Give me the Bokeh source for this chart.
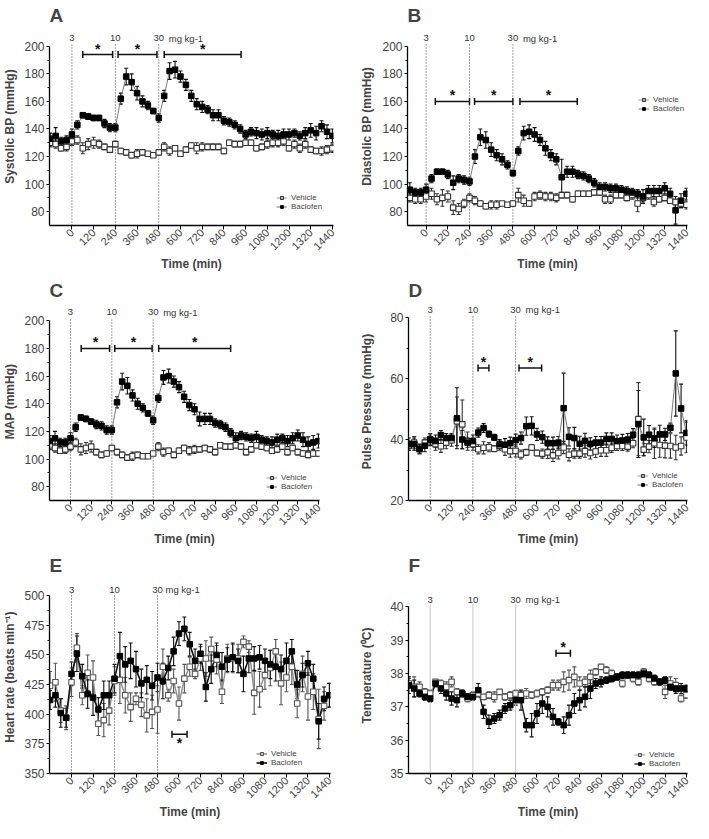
import math
from bokeh.plotting import figure
from bokeh.models import (Range1d, FixedTicker, Whisker, TeeHead, ColumnDataSource,
                          Legend, LegendItem, LabelSet, Label, Spacer)
from bokeh.layouts import row, column
from bokeh.embed import file_html
from bokeh.resources import INLINE
from bokeh.core.properties import value

FONT = "Liberation Sans"

# ---------------- data ----------------
t_main = list(range(-120, 1441, 30))
t_B = list(range(-90, 1441, 30))
x_ticks = list(range(0, 1441, 120))
dose_times = [0, 240, 480]
dose_labels = ["3", "10", "30"]
dose_unit = "mg kg-1"

A_bac = [133, 135, 131, 132, 136, 143, 150, 149, 148, 148, 144, 141, 141, 162, 178, 174, 166, 160, 157, 153, 148,
         164, 182, 183, 178, 172, 164, 158, 156, 154, 150, 150, 146, 145, 143, 140, 136,
         138, 137, 136, 137, 136, 135, 136, 136, 137, 135, 137, 139, 137, 142, 138, 135]
A_bac_err = [4, 6, 3, 3, 4, 3, 2, 2, 2, 2, 3, 3, 3, 4, 6, 6, 5, 4, 3, 2, 3,
             4, 6, 6, 4, 4, 4, 4, 4, 3, 4, 4, 3, 3, 3, 3, 3,
             3, 4, 4, 4, 3, 4, 4, 4, 3, 3, 4, 5, 5, 4, 5, 5]
A_veh = [130, 129, 126, 127, 131, 132, 126, 129, 130, 129, 127, 125, 129, 124, 123, 121, 122, 123, 122, 121, 123,
         127, 124, 126, 122, 125, 128, 126, 127, 127, 127, 127, 124, 130, 129, 129, 130,
         130, 126, 127, 129, 130, 130, 131, 126, 129, 126, 129, 125, 124, 124, 125, 126]
A_veh_err = [3, 3, 2, 3, 3, 3, 4, 4, 4, 3, 2, 2, 2, 2, 2, 2, 3, 2, 1, 1, 1,
             3, 3, 2, 2, 2, 2, 4, 3, 2, 2, 2, 2, 2, 2, 2, 2,
             2, 2, 2, 3, 3, 3, 3, 2, 3, 3, 3, 2, 2, 3, 3, 3]

B_bac = [96, 94, 94, 96, 104, 109, 109, 107, 101, 104, 103, 102, 120, 134, 132, 125, 121, 118, 114, 108,
         124, 137, 138, 136, 132, 126, 121, 118, 105, 109, 109, 107, 106, 104, 101, 98,
         98, 97, 97, 96, 95, 94, 93, 91, 95, 95, 95, 97, 93, 81, 88, 93]
B_bac_err = [5, 3, 3, 4, 3, 2, 2, 3, 5, 3, 3, 3, 5, 6, 6, 5, 4, 4, 3, 2,
             3, 5, 5, 5, 4, 5, 4, 4, 13, 4, 4, 3, 3, 3, 3, 3,
             3, 3, 3, 3, 3, 3, 3, 5, 4, 4, 4, 4, 4, 10, 5, 4]
B_veh = [90, 89, 89, 91, 93, 89, 90, 91, 83, 82, 86, 90, 88, 86, 84, 85, 85, 86, 85, 86,
         92, 88, 86, 91, 92, 91, 91, 90, 92, 92, 89, 93, 93, 93, 94, 94,
         89, 89, 92, 92, 90, 92, 86, 90, 92, 87, 89, 90, 88, 87, 86, 85]
B_veh_err = [3, 3, 3, 4, 4, 4, 6, 4, 5, 4, 3, 3, 3, 2, 2, 3, 3, 1, 1, 2,
             5, 4, 2, 3, 3, 3, 3, 3, 2, 2, 2, 2, 2, 2, 2, 2,
             3, 3, 2, 2, 2, 3, 6, 3, 3, 3, 2, 2, 2, 2, 3, 3]

C_bac = [113, 115, 112, 112, 115, 123, 130, 129, 127, 125, 124, 121, 121, 141, 156, 153, 146, 140, 137, 133, 128,
         144, 159, 160, 156, 152, 145, 139, 136, 129, 129, 129, 126, 125, 123, 119, 115,
         117, 116, 115, 116, 114, 113, 112, 114, 115, 113, 115, 117, 114, 111, 112, 113]
C_bac_err = [4, 5, 3, 3, 4, 3, 2, 2, 2, 3, 3, 3, 3, 4, 6, 6, 4, 4, 3, 2, 3,
             3, 5, 5, 4, 4, 4, 4, 4, 5, 4, 4, 3, 3, 3, 3, 4,
             3, 3, 3, 4, 3, 3, 4, 4, 3, 4, 4, 4, 5, 5, 5, 5]
C_veh = [110, 108, 106, 107, 109, 112, 107, 108, 109, 105, 103, 104, 108, 105, 103, 101, 102, 103, 102, 102, 104,
         109, 105, 106, 103, 106, 108, 106, 107, 107, 108, 107, 105, 110, 109, 109, 110,
         109, 105, 107, 110, 109, 108, 106, 107, 109, 105, 108, 105, 104, 103, 104, 104]
C_veh_err = [3, 3, 2, 3, 3, 3, 4, 4, 4, 2, 2, 2, 2, 2, 2, 2, 3, 2, 1, 1, 1,
             3, 3, 2, 2, 2, 2, 3, 3, 2, 2, 2, 2, 2, 2, 2, 2,
             2, 2, 2, 2, 2, 2, 2, 2, 2, 2, 2, 2, 2, 2, 2, 2]

D_bac = [38.5, 38.5, 37, 38, 40, 39.5, 41.5, 40.5, 40.5, 47, 40, 39, 39.5,
         42.3, 43.8, 41.8, 40.7, 38.5, 38.3, 38.8, 39.8,
         40.5, 44.4, 44.5, 41.7, 40.8, 38.9, 38.8, 39, 50.3, 40.9, 40.5, 38.6, 39.6, 38.6, 39, 39,
         40.2, 40.2, 39.5, 39.7, 40, 41.6, 45.1, 40.7, 41.6, 40.4, 41.7, 41.7, 43.9, 61.7, 50.2, 42.2]
D_bac_err = [2, 2, 1.5, 2, 2, 2, 1.5, 1.5, 1.5, 10, 3, 1.5, 2,
             1.5, 1.5, 1, 1, 1.5, 2, 2, 2,
             2, 3, 3, 2, 2, 2, 2, 2, 11.5, 3, 3.5, 2.5, 2.5, 2, 2, 2,
             2, 2, 2, 2, 2, 2, 11, 6, 3, 3, 3, 2, 1.5, 14, 8, 4]
D_veh = [38, 39, 36.8, 39, 40, 38.5, 37.8, 39, 39.8, 46, 45, 39.5, 38.5,
         36.8, 37.3, 37.5, 37, 38, 36.8, 36.2, 36.3,
         35.1, 35.8, 37.4, 35.6, 35.4, 35.8, 34.8, 35.6, 37.4, 35, 35.4, 35.4, 36.2, 35.6, 36.1, 36.5,
         36.5, 37.3, 37.9, 37.9, 37.7, 38.8, 46.7, 36.7, 37.7, 38.8, 38.2, 38, 37.9, 37.4, 37.9, 40.7]
D_veh_err = [1.5, 2, 1.5, 1.5, 1.5, 2, 2, 2, 2, 8, 8, 3, 2,
             1.5, 2, 1.5, 1, 1.5, 2, 2, 2,
             1.5, 1, 1, 1, 1.5, 2, 2, 2, 2, 2, 1.5, 1.5, 2, 2, 2, 2,
             2, 1.5, 1.5, 1.5, 1.5, 1.5, 12, 2, 2, 5, 4, 4, 4, 4, 3, 5]

E_bac = [412, 416, 401, 397, 434, 451, 432, 417, 414, 404, 416, 416, 430,
         449, 442, 445, 438, 426, 429, 424, 431, 428, 439, 453,
         468, 472, 459, 445, 451, 423, 438, 450, 440, 446, 448, 445, 434, 447, 447,
         448, 445, 442, 440, 438, 445, 453, 425, 433, 443, 430, 394, 413, 416]
E_bac_err = [8, 10, 12, 8, 10, 15, 10, 12, 15, 10, 12, 12, 12,
             20, 15, 15, 15, 12, 12, 12, 12, 15, 10, 12,
             10, 10, 10, 10, 8, 12, 12, 10, 12, 10, 12, 10, 15, 12, 10,
             10, 10, 12, 12, 12, 15, 10, 12, 10, 10, 12, 15, 10, 10]
E_veh = [424, 427, 403, 397, 427, 456, 416, 435, 431, 392, 395, 403, 428,
         429, 416, 406, 413, 408, 399, 402, 404, 440, 416, 428,
         409, 430, 440, 434, 447, 447, 455, 446, 419, 447, 447, 447, 461, 457, 418,
         421, 433, 439, 453, 426, 431, 440, 409, 434, 415, 419, 396, 407, 416]
E_veh_err = [12, 16, 10, 10, 12, 12, 8, 15, 14, 10, 14, 12, 12,
             20, 15, 12, 5, 10, 14, 14, 20, 15, 5, 10,
             14, 12, 8, 4, 10, 15, 10, 12, 10, 12, 12, 12, 5, 5, 18,
             15, 12, 15, 10, 18, 12, 15, 12, 15, 20, 15, 25, 12, 10]

F_bac = [37.65, 37.55, 37.4, 37.3, 37.25, 37.7, 37.55, 37.4, 37.25, 37.2, 37.4, 37.3, 37.3,
         37.5, 36.85, 36.55, 36.65, 36.75, 36.95, 37.05, 37.2,
         37.2, 36.45, 36.45, 36.8, 37.1, 37.0, 36.7, 36.55, 36.45, 36.75, 37.1, 37.2, 37.3, 37.55, 37.7, 37.75,
         37.8, 37.85, 37.9, 37.95, 37.95, 37.95, 37.95, 38.0, 37.95, 37.85, 37.75, 37.8, 37.6, 37.55, 37.55, 37.55]
F_bac_err = [0.25, 0.25, 0.1, 0.1, 0.1, 0.1, 0.15, 0.2, 0.2, 0.2, 0.1, 0.1, 0.1,
             0.2, 0.2, 0.2, 0.15, 0.15, 0.15, 0.15, 0.15,
             0.3, 0.2, 0.35, 0.3, 0.3, 0.3, 0.25, 0.1, 0.25, 0.3, 0.3, 0.3, 0.3, 0.3, 0.15, 0.15,
             0.1, 0.1, 0.1, 0.1, 0.1, 0.1, 0.1, 0.1, 0.1, 0.1, 0.1, 0.1, 0.1, 0.15, 0.15, 0.1]
F_veh = [37.7, 37.6, 37.6, 37.45, 37.4, 37.75, 37.7, 37.6, 37.75, 37.45, 37.4, 37.25, 37.35,
         37.4, 37.3, 37.35, 37.3, 37.45, 37.3, 37.35, 37.4,
         37.35, 37.4, 37.35, 37.4, 37.45, 37.5, 37.65, 37.65, 37.75, 37.8, 37.9, 37.7, 37.75, 37.9, 38.05, 38.2,
         38.1, 38.0, 37.9, 37.7, 37.95, 37.85, 37.75, 38.05, 37.85, 37.75, 37.75, 37.45, 37.7, 37.65, 37.25, 37.35]
F_veh_err = [0.15, 0.3, 0.15, 0.1, 0.1, 0.05, 0.1, 0.15, 0.15, 0.1, 0.1, 0.1, 0.1,
             0.05, 0.05, 0.1, 0.15, 0.05, 0.1, 0.1, 0.1,
             0.1, 0.15, 0.1, 0.1, 0.1, 0.1, 0.15, 0.15, 0.3, 0.3, 0.3, 0.2, 0.15, 0.2, 0.1, 0.05,
             0.1, 0.1, 0.1, 0.1, 0.1, 0.1, 0.1, 0.1, 0.1, 0.1, 0.1, 0.2, 0.2, 0.2, 0.1, 0.1]

# significance bars (start, end, y)
sig_A = dict(start=[60, 255, 510], end=[225, 470, 935], y=194)
sig_B = dict(start=[51, 268, 519], end=[240, 480, 836], y=160)
sig_C = dict(start=[62, 257, 512], end=[227, 474, 930], y=180)
sig_D = dict(start=[269, 499], end=[330, 626], y=63.5)
sig_E = dict(start=[561], end=[645], y=383)
sig_F = dict(start=[707], end=[788], y=38.61)


def make_panel(cfg):
    p = figure(width=cfg["w"], height=cfg["h"], output_backend="svg", toolbar_location=None,
               x_range=Range1d(*cfg["xr"]), y_range=Range1d(*cfg["yr"]),
               min_border_left=cfg["ml"], min_border_right=cfg["mr"],
               min_border_top=20, min_border_bottom=50,
               title=cfg["letter"])
    p.xgrid.visible = False
    p.ygrid.visible = False
    p.outline_line_color = None
    p.title.text_font = FONT
    p.title.text_font_size = "19px"
    p.title.text_font_style = "bold"
    p.title.align = "left"
    p.title.standoff = 4
    p.title.offset = cfg["title_dx"]

    xa = p.xaxis[0]
    xa.ticker = FixedTicker(ticks=x_ticks)
    xa.major_label_orientation = math.pi / 4
    xa.major_label_text_font = FONT
    xa.major_label_text_font_size = "11px"
    xa.major_label_standoff = 1
    xa.major_tick_in = 0
    xa.major_tick_out = 4
    xa.minor_tick_line_color = None
    xa.axis_line_width = 1.3
    xa.axis_label = "Time (min)"
    xa.axis_label_text_font = FONT
    xa.axis_label_text_font_size = "12px"
    xa.axis_label_text_font_style = "bold"
    xa.axis_label_standoff = 1

    ya = p.yaxis[0]
    ya.ticker = FixedTicker(ticks=cfg["yticks"], minor_ticks=cfg["yminor"])
    ya.bounds = cfg["ybounds"]
    ya.major_label_text_font = FONT
    ya.major_label_text_font_size = "12px"
    ya.major_label_standoff = 2
    ya.major_tick_in = 0
    ya.major_tick_out = 3
    ya.minor_tick_in = 0
    ya.minor_tick_out = 2
    ya.axis_line_width = 1.3
    ya.axis_label = cfg["ylabel"]
    ya.axis_label_text_font = FONT
    ya.axis_label_text_font_size = "12px"
    ya.axis_label_text_font_style = "bold"
    ya.axis_label_standoff = cfg["ylab_so"]

    ylo = cfg["yr"][0]
    # dose lines
    n = len(dose_times)
    p.segment(x0=dose_times, y0=[ylo] * n, x1=dose_times, y1=[cfg["line_top"]] * n,
              line_color=cfg["dose_color"], line_width=1, line_dash=cfg["dose_dash"])
    lab_src = ColumnDataSource(dict(x=dose_times, y=[cfg["label_y"]] * n, text=dose_labels))
    p.add_layout(LabelSet(x="x", y="y", text="text", source=lab_src, text_align="center",
                          text_baseline="middle", text_font=value(FONT), text_font_size=value("9.5px"),
                          text_color="#333333"))
    p.add_layout(Label(x=dose_times[-1], y=cfg["label_y"], text=dose_unit, x_offset=cfg["unit_dx"],
                       text_align="left", text_baseline="middle", text_font=FONT,
                       text_font_size="9.5px", text_color="#333333"))

    t = cfg["t"]
    st = cfg["style"]
    # error bars
    for ys, es, col in ((cfg["veh"], cfg["veh_err"], st["veh_err"]), (cfg["bac"], cfg["bac_err"], st["bac_err"])):
        src = ColumnDataSource(dict(t=t, lo=[a - b for a, b in zip(ys, es)], hi=[a + b for a, b in zip(ys, es)]))
        p.add_layout(Whisker(source=src, base="t", lower="lo", upper="hi", dimension="height",
                             line_color=col, line_width=1.1, level="underlay",
                             upper_head=TeeHead(size=4, line_color=col, line_width=1.1),
                             lower_head=TeeHead(size=4, line_color=col, line_width=1.1)))
    lv = p.line(t, cfg["veh"], line_color=st["veh_line"], line_width=st["veh_lw"])
    lb = p.line(t, cfg["bac"], line_color=st["bac_line"], line_width=st["bac_lw"])
    sv = p.scatter(t, cfg["veh"], marker="square", size=5.5, fill_color="white",
                   line_color=st["veh_mk"], line_width=1.1)
    sb = p.scatter(t, cfg["bac"], marker="square", size=5.5, fill_color="black", line_color="black")

    # significance bars
    sg = cfg["sig"]
    m = len(sg["start"])
    ssrc = ColumnDataSource(dict(base=[sg["y"]] * m, lo=sg["start"], hi=sg["end"]))
    p.add_layout(Whisker(source=ssrc, base="base", lower="lo", upper="hi", dimension="width",
                         line_color="#111111", line_width=1.5,
                         upper_head=TeeHead(size=7, line_color="#111111", line_width=1.5),
                         lower_head=TeeHead(size=7, line_color="#111111", line_width=1.5)))
    mids = [(a + b) / 2 for a, b in zip(sg["start"], sg["end"])]
    if cfg["star_below"]:
        p.text(x=mids, y=[sg["y"]] * m, text=["*"] * m, text_align="center", text_baseline="top",
               text_font=value(FONT), text_font_size="14px", text_font_style="bold", y_offset=1,
               text_color="#111111")
    else:
        p.text(x=mids, y=[sg["y"]] * m, text=["*"] * m, text_align="center", text_baseline="middle",
               text_font=value(FONT), text_font_size="14px", text_font_style="bold", y_offset=-6,
               text_color="#111111")

    leg = Legend(items=[LegendItem(label="Vehicle", renderers=[lv, sv]),
                        LegendItem(label="Baclofen", renderers=[lb, sb])],
                 location=cfg["leg"], glyph_width=11, glyph_height=7, label_height=7,
                 label_standoff=4, label_text_font=FONT, label_text_font_size="8px",
                 spacing=0, padding=0, margin=0, border_line_color=None, background_fill_alpha=0)
    p.add_layout(leg, "center")
    return p


style_bp = dict(veh_line="#9a9a9a", veh_lw=1, bac_line="#7a7a7a", bac_lw=1,
                veh_err="#333333", bac_err="#111111", veh_mk="#333333")
style_hr = dict(veh_line="#8c8c8c", veh_lw=1.4, bac_line="#111111", bac_lw=1.6,
                veh_err="#555555", bac_err="#111111", veh_mk="#555555")
style_t = dict(veh_line="#9a9a9a", veh_lw=1.1, bac_line="#111111", bac_lw=1.3,
               veh_err="#555555", bac_err="#111111", veh_mk="#555555")

bp_ticks = [80, 100, 120, 140, 160, 180, 200]
bp_minor = [90, 110, 130, 150, 170, 190]

common_dot = dict(dose_color="#444444", dose_dash="1 2")

LW, GAP, RW = 350, 7, 336
TDX = 0

cfgA = dict(letter="A", t=t_main, veh=A_veh, veh_err=A_veh_err, bac=A_bac, bac_err=A_bac_err,
            ylabel="Systolic BP (mmHg)", yticks=bp_ticks, yminor=bp_minor, title_dx=TDX,
            w=LW, h=275, ml=43, mr=17, ylab_so=4, xr=(-124, 1446), yr=(70, 213.6), ybounds=(70, 200),
            line_top=202, label_y=205.8, unit_dx=10, sig=sig_A, star_below=False, leg=(227, 14),
            style=style_bp, **common_dot)
cfgB = dict(letter="B", t=t_B, veh=B_veh, veh_err=B_veh_err, bac=B_bac, bac_err=B_bac_err,
            ylabel="Diastolic BP (mmHg)", yticks=bp_ticks, yminor=bp_minor, title_dx=TDX,
            w=RW, h=275, ml=44, mr=6, ylab_so=5, xr=(-103, 1446), yr=(70, 213.6), ybounds=(70, 200),
            line_top=202, label_y=205.8, unit_dx=10, sig=sig_B, star_below=False, leg=(231, 112),
            style=style_bp, **common_dot)
cfgC = dict(letter="C", t=t_main, veh=C_veh, veh_err=C_veh_err, bac=C_bac, bac_err=C_bac_err,
            ylabel="MAP (mmHg)", yticks=bp_ticks, yminor=bp_minor, title_dx=TDX,
            w=LW, h=275, ml=43, mr=31, ylab_so=4, xr=(-122, 1446), yr=(70, 213.2), ybounds=(70, 200),
            line_top=202, label_y=206, unit_dx=10, sig=sig_C, star_below=False, leg=(217, 9),
            style=style_bp, **common_dot)
cfgD = dict(letter="D", t=t_main, veh=D_veh, veh_err=D_veh_err, bac=D_bac, bac_err=D_bac_err,
            ylabel="Pulse Pressure (mmHg)", yticks=[20, 40, 60, 80], yminor=[30, 50, 70], title_dx=TDX,
            w=RW, h=275, ml=45, mr=6, ylab_so=13, xr=(-122, 1446), yr=(20, 85), ybounds=(20, 80),
            line_top=81, label_y=82.7, unit_dx=10, sig=sig_D, star_below=False, leg=(229, 11),
            style=style_bp, **common_dot)
cfgE = dict(letter="E", t=t_main, veh=E_veh, veh_err=E_veh_err, bac=E_bac, bac_err=E_bac_err,
            ylabel="Heart rate  (beats min\u207b\u00b9)", yticks=[350, 375, 400, 425, 450, 475, 500],
            yminor=[362.5, 387.5, 412.5, 437.5, 462.5, 487.5], title_dx=TDX,
            w=LW, h=273, ml=43, mr=20, ylab_so=4, xr=(-123, 1446), yr=(350, 515.3), ybounds=(350, 500),
            line_top=502, label_y=505, unit_dx=8, sig=sig_E, star_below=True, leg=(207, 6),
            style=style_hr, **common_dot)
cfgF = dict(letter="F", t=t_main, veh=F_veh, veh_err=F_veh_err, bac=F_bac, bac_err=F_bac_err,
            ylabel="Temperature (\u2070C)", yticks=[35, 36, 37, 38, 39, 40],
            yminor=[35.5, 36.5, 37.5, 38.5, 39.5], title_dx=TDX,
            w=RW, h=273, ml=45, mr=6, ylab_so=13, xr=(-122, 1446), yr=(35, 40.88), ybounds=(35, 40),
            line_top=40.09, label_y=40.22, unit_dx=10, sig=sig_F, star_below=False, leg=(226, 5),
            style=style_t, dose_color="#c8c8c8", dose_dash="solid")

pA, pB, pC, pD, pE, pF = [make_panel(c) for c in (cfgA, cfgB, cfgC, cfgD, cfgE, cfgF)]

layout = column(row(pA, Spacer(width=GAP, height=275), pB, spacing=0),
                row(pC, Spacer(width=GAP, height=275), pD, spacing=0),
                row(pE, Spacer(width=GAP, height=273), pF, spacing=0), spacing=0)

open("out.html", "w").write(file_html(layout, INLINE))
